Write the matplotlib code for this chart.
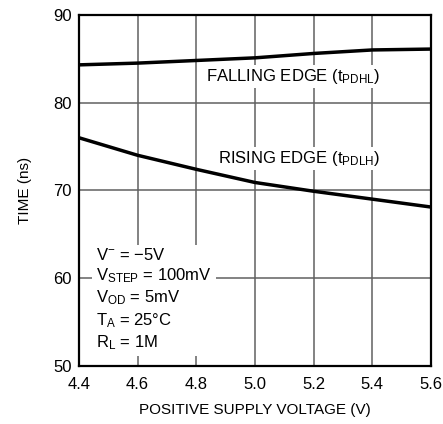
import matplotlib
matplotlib.use('Agg')
import matplotlib.pyplot as plt
from matplotlib import font_manager

names = {f.name for f in font_manager.fontManager.ttflist}
fam = 'Liberation Sans Narrow' if 'Liberation Sans Narrow' in names else 'Liberation Sans'
plt.rcParams['font.family'] = [fam, 'DejaVu Sans']
plt.rcParams['mathtext.default'] = 'regular'

# data
vsupply = [4.4, 4.6, 4.8, 5.0, 5.2, 5.4, 5.6]
t_falling = [84.3, 84.5, 84.8, 85.1, 85.6, 86.0, 86.1]
t_rising = [76.0, 74.0, 72.4, 70.9, 69.9, 69.0, 68.1]

fig = plt.figure(figsize=(4.43, 4.24), dpi=100)
ax = fig.add_axes([0.178, 0.137, 0.795, 0.828])

ax.plot(vsupply, t_falling, color='black', lw=2.5, zorder=3)
ax.plot(vsupply, t_rising, color='black', lw=2.5, zorder=3)

ax.set_xlim(4.4, 5.6)
ax.set_ylim(50, 90)
ax.set_xticks([4.4, 4.6, 4.8, 5.0, 5.2, 5.4, 5.6])
ax.set_xticklabels(['4.4', '4.6', '4.8', '5.0', '5.2', '5.4', '5.6'])
ax.set_yticks([50, 60, 70, 80, 90])
ax.tick_params(axis='x', length=0, labelsize=12, pad=8)
ax.tick_params(axis='y', length=0, labelsize=12, pad=5)
ax.grid(True, color='#606060', lw=1.1, zorder=1)
for s in ax.spines.values():
    s.set_linewidth(1.6)
    s.set_zorder(4)

ax.set_xlabel('POSITIVE SUPPLY VOLTAGE (V)', fontsize=11, labelpad=8)
ax.set_ylabel('TIME (ns)', fontsize=11, labelpad=15)

bb = dict(facecolor='white', edgecolor='none', pad=1.5)
ax.text(5.13, 83.0, 'FALLING EDGE (t$_{PDHL}$)', fontsize=12, ha='center', va='center',
        bbox=bb, zorder=2)
ax.text(5.15, 73.6, 'RISING EDGE (t$_{PDLH}$)', fontsize=12, ha='center', va='center',
        bbox=bb, zorder=2)
ax.text(4.46, 51.6, 'V$^{-}$ = \u22125V\nV$_{STEP}$ = 100mV\nV$_{OD}$ = 5mV\nT$_{A}$ = 25\u00b0C\nR$_{L}$ = 1M',
        fontsize=12, ha='left', va='bottom', linespacing=1.25,
        bbox=dict(facecolor='white', edgecolor='none', pad=3), zorder=2)

fig.savefig('out.png', dpi=100)
